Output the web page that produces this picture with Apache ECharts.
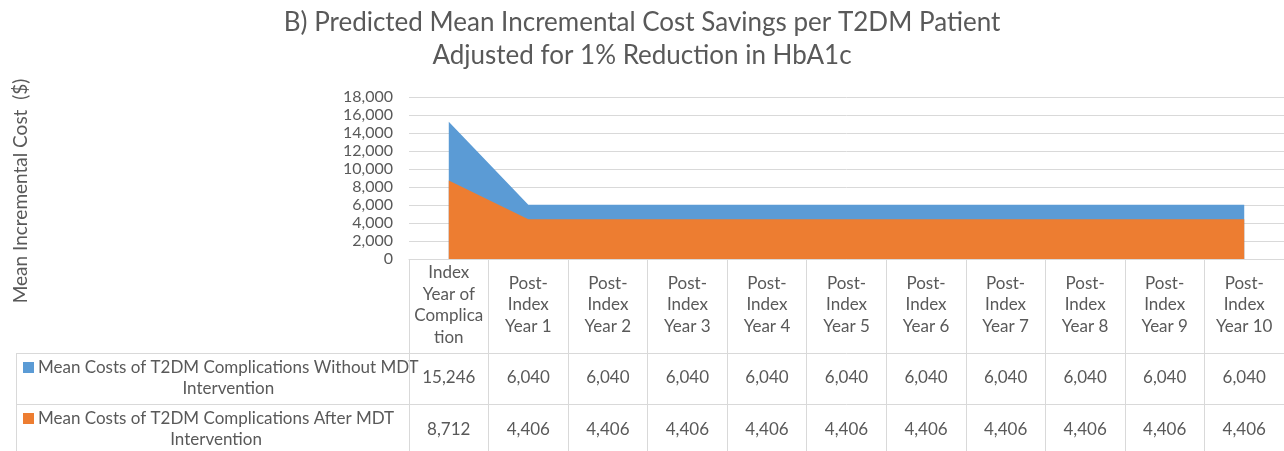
<!DOCTYPE html>
<html lang="en">
<head>
    <meta charset="UTF-8">
    <title>Predicted Mean Incremental Cost Savings</title>
    <script src="https://cdn.jsdelivr.net/npm/echarts@6/dist/echarts.min.js"></script>
    <style>
        html, body { margin: 0; padding: 0; background: #ffffff; }
        #chart { width: 1284px; height: 451px; }
    </style>
</head>
<body>
<div id="chart"></div>
<script type="text/javascript">
    // chart data
    var categories = ['Index\nYear of\nComplica\ntion', 'Post-\nIndex\nYear 1', 'Post-\nIndex\nYear 2', 'Post-\nIndex\nYear 3',
        'Post-\nIndex\nYear 4', 'Post-\nIndex\nYear 5', 'Post-\nIndex\nYear 6', 'Post-\nIndex\nYear 7',
        'Post-\nIndex\nYear 8', 'Post-\nIndex\nYear 9', 'Post-\nIndex\nYear 10'];
    var withoutMdt = [15246, 6040, 6040, 6040, 6040, 6040, 6040, 6040, 6040, 6040, 6040];
    var afterMdt = [8712, 4406, 4406, 4406, 4406, 4406, 4406, 4406, 4406, 4406, 4406];
    var seriesNames = ['Mean Costs of T2DM Complications Without MDT\nIntervention',
        'Mean Costs of T2DM Complications After MDT\nIntervention'];

    var FONT = 'Lato';
    var TXT = '#595959';
    var LINE = '#d9d9d9';
    var BLUE = '#5b9bd5';
    var ORANGE = '#ed7d31';

    function fmt(v) {
        return v.toLocaleString('en-US');
    }

    var myChart = echarts.init(document.getElementById('chart'));

    // row header of the data table: colour key + series name,
    // lines centred inside a block that starts right of the key
    function rowHeader(name, color, y) {
        var font = '17px ' + FONT;
        var w = echarts.format.getTextRect(name.split('\n')[0], font).width;
        return [{
            type: 'rect',
            shape: { x: 23, y: y - 16, width: 11, height: 11 },
            style: { fill: color }
        }, {
            type: 'text',
            x: 38 + w / 2,
            y: y,
            style: {
                text: name,
                font: font,
                fill: TXT,
                align: 'center',
                verticalAlign: 'middle',
                lineHeight: 21
            }
        }];
    }

    option = {
        animation: false,
        textStyle: { fontFamily: FONT, color: TXT },
        title: {
            text: 'B) Predicted Mean Incremental Cost Savings per T2DM Patient\nAdjusted for 1% Reduction in HbA1c',
            left: 'center',
            top: 1,
            textStyle: { fontFamily: FONT, fontSize: 26, fontWeight: 'normal', color: TXT, lineHeight: 33 }
        },
        grid: { left: 409, right: 0, top: 97, bottom: 192, containLabel: false, outerBoundsMode: 'none' },
        yAxis: {
            type: 'value',
            min: 0,
            max: 18000,
            interval: 2000,
            axisLine: { show: false },
            axisTick: { show: false },
            axisLabel: { fontFamily: FONT, fontSize: 16, color: TXT, margin: 16, formatter: function (v) { return fmt(v); } },
            splitLine: { lineStyle: { color: LINE, width: 1 } }
        },
        xAxis: [{
            type: 'category',
            data: categories,
            boundaryGap: true,
            axisLine: { lineStyle: { color: LINE } },
            axisTick: { show: true, length: 192, interval: 0, lineStyle: { color: LINE } },
            axisLabel: { interval: 0, fontFamily: FONT, fontSize: 17, color: TXT, lineHeight: 21.5, verticalAlign: 'middle', margin: 46 }
        }, {
            type: 'category',
            data: categories,
            position: 'bottom',
            offset: 94,
            axisLine: { lineStyle: { color: LINE } },
            axisTick: { show: false },
            axisLabel: { interval: 0, fontFamily: FONT, fontSize: 17, color: TXT, verticalAlign: 'middle', margin: 25,
                formatter: function (v, i) { return fmt(withoutMdt[i]); } }
        }, {
            type: 'category',
            data: categories,
            position: 'bottom',
            offset: 145,
            axisLine: { lineStyle: { color: LINE } },
            axisTick: { show: false },
            axisLabel: { interval: 0, fontFamily: FONT, fontSize: 17, color: TXT, verticalAlign: 'middle', margin: 26,
                formatter: function (v, i) { return fmt(afterMdt[i]); } }
        }],
        series: [{
            name: seriesNames[0],
            type: 'line',
            data: withoutMdt,
            symbol: 'none',
            lineStyle: { width: 0 },
            areaStyle: { color: BLUE, opacity: 1 }
        }, {
            name: seriesNames[1],
            type: 'line',
            data: afterMdt,
            symbol: 'none',
            lineStyle: { width: 0 },
            areaStyle: { color: ORANGE, opacity: 1 }
        }],
        graphic: [
            // y axis title
            {
                type: 'text',
                x: 21,
                y: 191,
                rotation: Math.PI / 2,
                style: {
                    text: 'Mean Incremental Cost  ($)',
                    font: '19px ' + FONT,
                    fill: TXT,
                    align: 'center',
                    verticalAlign: 'middle'
                }
            },
            // left part of the data table borders
            { type: 'line', shape: { x1: 16, y1: 353.5, x2: 409, y2: 353.5 }, style: { stroke: LINE, lineWidth: 1 } },
            { type: 'line', shape: { x1: 16, y1: 404.5, x2: 409, y2: 404.5 }, style: { stroke: LINE, lineWidth: 1 } },
            { type: 'line', shape: { x1: 16.5, y1: 353, x2: 16.5, y2: 451 }, style: { stroke: LINE, lineWidth: 1 } }
        ].concat(rowHeader(seriesNames[0], BLUE, 378), rowHeader(seriesNames[1], ORANGE, 429))
    };
    myChart.setOption(option);
</script>
</body>
</html>
